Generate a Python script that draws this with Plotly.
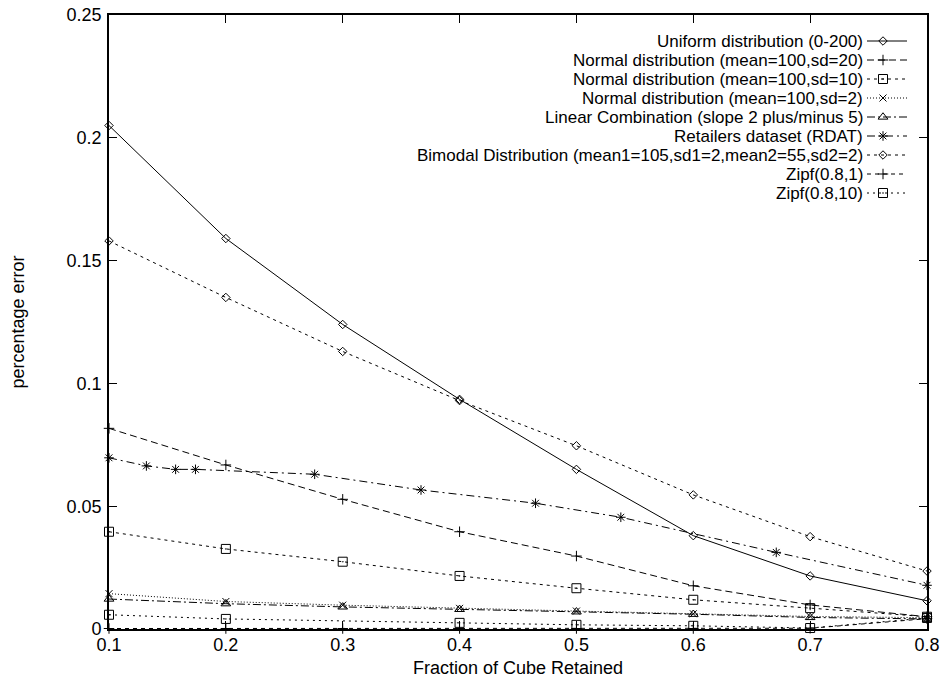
import plotly.graph_objects as go

# ---------------- data ----------------
x_vals = [0.1, 0.2, 0.3, 0.4, 0.5, 0.6, 0.7, 0.8]

uniform = [0.205, 0.159, 0.124, 0.0935, 0.065, 0.038, 0.0216, 0.0115]
normal_sd20 = [0.0817, 0.0668, 0.0528, 0.0396, 0.0297, 0.0176, 0.0098, 0.0050]
normal_sd10 = [0.0396, 0.0326, 0.0274, 0.0216, 0.0166, 0.0119, 0.0085, 0.0050]
normal_sd2 = [0.0144, 0.0112, 0.0097, 0.0084, 0.0073, 0.0062, 0.0051, 0.0046]
linear_comb = [0.0122, 0.0103, 0.0090, 0.0080, 0.0070, 0.0060, 0.0047, 0.0041]
retail_x = [0.1, 0.132, 0.157, 0.174, 0.276, 0.367, 0.465, 0.538, 0.671, 0.8]
retail = [0.0697, 0.0664, 0.0650, 0.0650, 0.0630, 0.0566, 0.0512, 0.0455, 0.0312, 0.0178]
bimodal = [0.158, 0.135, 0.113, 0.093, 0.0746, 0.0546, 0.0376, 0.0236]
zipf1 = [0.0002, 0.0002, 0.0002, 0.0002, 0.0002, 0.0002, 0.0003, 0.0042]
zipf10_x = [0.1, 0.2, 0.4, 0.5, 0.6, 0.7, 0.8]
zipf10 = [0.0058, 0.0041, 0.0025, 0.0017, 0.0013, 0.0004, 0.0045]

series_names = [
    "Uniform distribution (0-200)",
    "Normal distribution (mean=100,sd=20)",
    "Normal distribution (mean=100,sd=10)",
    "Normal distribution (mean=100,sd=2)",
    "Linear Combination (slope 2 plus/minus 5)",
    "Retailers dataset (RDAT)",
    "Bimodal Distribution (mean1=105,sd1=2,mean2=55,sd2=2)",
    "Zipf(0.8,1)",
    "Zipf(0.8,10)",
]

x_ticks = [0.1, 0.2, 0.3, 0.4, 0.5, 0.6, 0.7, 0.8]
x_tick_labels = ["0.1", "0.2", "0.3", "0.4", "0.5", "0.6", "0.7", "0.8"]
y_ticks = [0, 0.05, 0.1, 0.15, 0.2, 0.25]
y_tick_labels = ["0", "0.05", "0.1", "0.15", "0.2", "0.25"]
x_title = "Fraction of Cube Retained"
y_title = "percentage error"

# ---------------- styles ----------------
series_x = [x_vals, x_vals, x_vals, x_vals, x_vals, retail_x, x_vals, x_vals, zipf10_x]
series_y = [uniform, normal_sd20, normal_sd10, normal_sd2, linear_comb, retail, bimodal, zipf1, zipf10]
dashes = ["solid", "7px,4px", "3px,4px", "1px,2px", "8px,3px,2px,3px",
          "8px,4px,2px,4px", "3px,4px", "4px,4px", "2px,4px"]
symbols = ["diamond-open", "cross-thin-open", "square-open-dot", "x-thin-open",
           "triangle-up-open", "asterisk-open", "diamond-open", "cross-thin-open",
           "square-open-dot"]
sizes = [6.5, 7.5, 9, 7, 8.5, 8, 6.5, 7.5, 9]

FONT = "Liberation Sans, Arial, Helvetica, sans-serif"
FS = 18
KEY_FS = 17

fig = go.Figure()
for i, name in enumerate(series_names):
    fig.add_trace(go.Scatter(
        x=series_x[i], y=series_y[i], mode="lines+markers", name=name,
        line=dict(color="black", width=1, dash=dashes[i]),
        marker=dict(symbol=symbols[i], size=sizes[i], color="black",
                    line=dict(color="black", width=1)),
        showlegend=False, cliponaxis=False,
    ))

# custom gnuplot-style key: text right-aligned, sample on the right
# overlay axes measured in page pixels (plot area spans 109..927 x 15..629)
row0, dy = 41.0, 19.0
lx0, lx1, lxm, ltext = 867, 907, 883, 864
annotations = []
for i, name in enumerate(series_names):
    yy = row0 + dy * i
    fig.add_trace(go.Scatter(
        x=[lx0, lx1], y=[yy, yy], mode="lines", xaxis="x2", yaxis="y2",
        line=dict(color="black", width=1, dash=dashes[i]), showlegend=False,
        hoverinfo="skip"))
    fig.add_trace(go.Scatter(
        x=[lxm], y=[yy], mode="markers", xaxis="x2", yaxis="y2",
        marker=dict(symbol=symbols[i], size=sizes[i], color="black",
                    line=dict(color="black", width=1)),
        showlegend=False, hoverinfo="skip"))
    annotations.append(dict(
        x=ltext, y=yy, xref="x2", yref="y2", text=name, showarrow=False,
        xanchor="right", yanchor="middle", borderpad=0,
        font=dict(family=FONT, size=KEY_FS, color="black")))

# x axis title placed just below the tick labels
annotations.append(dict(
    x=0.5, y=-39 / 614, xref="paper", yref="paper", text=x_title,
    showarrow=False, xanchor="center", yanchor="middle", borderpad=0,
    font=dict(family=FONT, size=FS, color="black")))

axis_common = dict(
    showline=True, linecolor="black", linewidth=1.6, mirror="ticks",
    ticks="inside", ticklen=8, tickwidth=1, tickcolor="black",
    showgrid=False, zeroline=False, automargin=False,
    tickfont=dict(family=FONT, size=FS, color="black"),
)

fig.update_layout(
    width=943, height=679,
    margin=dict(l=109, r=16, t=15, b=50, pad=0),
    paper_bgcolor="white", plot_bgcolor="white",
    font=dict(family=FONT, size=FS, color="black"),
    xaxis=dict(range=[0.1, 0.8], tickvals=x_ticks, ticktext=x_tick_labels,
               ticklabelstandoff=-1, **axis_common),
    yaxis=dict(range=[0, 0.25], tickvals=y_ticks, ticktext=y_tick_labels,
               ticklabelstandoff=2,
               title=dict(text=y_title, standoff=37,
                          font=dict(family=FONT, size=FS)),
               **axis_common),
    xaxis2=dict(range=[109, 927], overlaying="x", visible=False, fixedrange=True),
    yaxis2=dict(range=[629, 15], overlaying="y", visible=False, fixedrange=True),
    annotations=annotations,
    showlegend=False,
)

fig.write_html("out.html")
